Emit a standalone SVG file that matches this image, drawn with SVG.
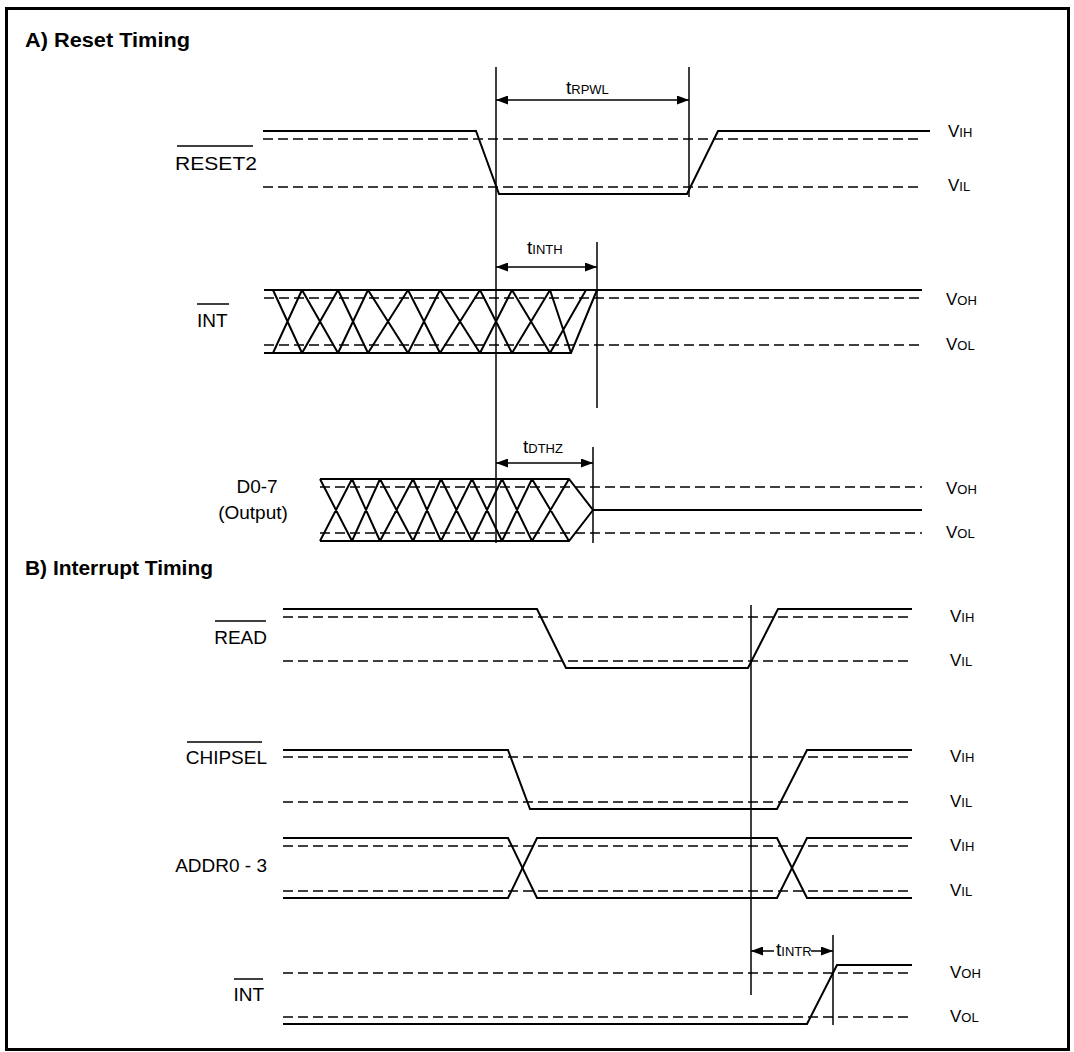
<svg xmlns="http://www.w3.org/2000/svg" width="1074" height="1052" viewBox="0 0 1074 1052">
<style>
text{font-family:"Liberation Sans",Arial,Helvetica,sans-serif;fill:#000}
.title{font-size:20px;font-weight:bold}
.name{font-size:19px}
.vl{font-size:17px}
.vs{font-size:13px}
.tl{font-size:19px}
.ts{font-size:13px}
.sig{fill:none;stroke:#000;stroke-width:2;stroke-linejoin:miter}
.ref{fill:none;stroke:#000;stroke-width:1.6;stroke-dasharray:10 5}
.tick{fill:none;stroke:#000;stroke-width:1.5}
.ov{stroke:#000;stroke-width:1.5}
.arr{fill:none;stroke:#000;stroke-width:1.5}
.frame{fill:none;stroke:#000;stroke-width:3}
</style>
<defs>
<marker id="ah" viewBox="0 0 12 9" markerWidth="12" markerHeight="9" refX="12" refY="4.5" orient="auto-start-reverse" markerUnits="userSpaceOnUse">
<path d="M0,0 L12,4.5 L0,9 z" fill="#000"/>
</marker>
</defs>
<rect width="1074" height="1052" fill="#fff"/>
<rect class="frame" x="6.5" y="8.5" width="1062" height="1041"/>

<g id="titles">
<text class="title" x="25" y="47" textLength="165" lengthAdjust="spacingAndGlyphs">A) Reset Timing</text>
<text class="title" x="25" y="575" textLength="188" lengthAdjust="spacingAndGlyphs">B) Interrupt Timing</text>
</g>

<!-- Section A -->
<g id="reset2">
<text class="name" x="175" y="170" textLength="82" lengthAdjust="spacingAndGlyphs">RESET2</text>
<line class="ov" x1="177" y1="146" x2="253" y2="146"/>
<path class="ref" d="M263,139 H922 M263,187 H922"/>
<path class="sig" d="M263,131 H476 L499,194 H687 L718,131 H930"/>
<text class="vl" x="948" y="137">V<tspan class="vs">IH</tspan></text>
<text class="vl" x="948" y="191">V<tspan class="vs">IL</tspan></text>
</g>

<g id="int-a">
<text class="name" x="197" y="327">INT</text>
<line class="ov" x1="197" y1="304" x2="229" y2="304"/>
<path class="ref" d="M264,298 H922 M264,345 H922"/>
<path class="sig" d="M264,290 H922 M264,353 H571 L597,290"/>
<path class="sig" d="M273,290 L302,353 M273,353 L302,290 M302,290 L338,353 M302,353 L338,290 M338,290 L368,353 M338,353 L368,290 M368,290 L408,353 M368,353 L408,290 M408,290 L440,353 M408,353 L440,290 M440,290 L480,353 M440,353 L480,290 M480,290 L512,353 M480,353 L512,290 M512,290 L550,353 M512,353 L550,290 M550,290 L571,353 M550,353 L586,290"/>
<text class="vl" x="946" y="305">V<tspan class="vs">OH</tspan></text>
<text class="vl" x="946" y="350">V<tspan class="vs">OL</tspan></text>
</g>

<g id="d0-7">
<text class="name" x="257" y="493" text-anchor="middle">D0-7</text>
<text class="name" x="253" y="519" text-anchor="middle">(Output)</text>
<path class="ref" d="M320,487 H922 M320,533 H922"/>
<path class="sig" d="M320,479 H569 L593,510 L569,541 H320 M593,510 H922"/>
<path class="sig" d="M320,479 L352,541 M320,541 L352,479 M352,479 L380,541 M352,541 L380,479 M380,479 L413,541 M380,541 L413,479 M413,479 L441,541 M413,541 L441,479 M441,479 L472,541 M441,541 L472,479 M472,479 L502,541 M472,541 L502,479 M502,479 L532,541 M502,541 L532,479 M532,479 L569,541 M532,541 L569,479"/>
<text class="vl" x="946" y="494">V<tspan class="vs">OH</tspan></text>
<text class="vl" x="946" y="538">V<tspan class="vs">OL</tspan></text>
</g>

<!-- Section B -->
<g id="read">
<text class="name" x="267" y="644" text-anchor="end">READ</text>
<line class="ov" x1="215" y1="621" x2="266" y2="621"/>
<path class="ref" d="M283,617 H912 M283,661 H912"/>
<path class="sig" d="M283,609 H537 L566,668 H748 L778,609 H912"/>
<text class="vl" x="950" y="622">V<tspan class="vs">IH</tspan></text>
<text class="vl" x="950" y="666">V<tspan class="vs">IL</tspan></text>
</g>

<g id="chipsel">
<text class="name" x="267" y="764" text-anchor="end">CHIPSEL</text>
<line class="ov" x1="187" y1="742" x2="262" y2="742"/>
<path class="ref" d="M283,757 H912 M283,802 H912"/>
<path class="sig" d="M283,750 H508 L530,809 H777 L807,750 H912"/>
<text class="vl" x="950" y="762">V<tspan class="vs">IH</tspan></text>
<text class="vl" x="950" y="807">V<tspan class="vs">IL</tspan></text>
</g>

<g id="addr0-3">
<text class="name" x="267" y="872" text-anchor="end">ADDR0 - 3</text>
<path class="ref" d="M283,846 H912 M283,891 H912"/>
<path class="sig" d="M283,838 H508 L537,898 H777 L807,838 H912"/>
<path class="sig" d="M283,898 H508 L537,838 H777 L807,898 H912"/>
<text class="vl" x="950" y="851">V<tspan class="vs">IH</tspan></text>
<text class="vl" x="950" y="896">V<tspan class="vs">IL</tspan></text>
</g>

<g id="int-b">
<text class="name" x="264" y="1001" text-anchor="end">INT</text>
<line class="ov" x1="234" y1="979" x2="263" y2="979"/>
<path class="ref" d="M283,973 H912 M283,1017 H912"/>
<path class="sig" d="M283,1024 H807 L837,965 H912"/>
<text class="vl" x="950" y="978">V<tspan class="vs">OH</tspan></text>
<text class="vl" x="950" y="1022">V<tspan class="vs">OL</tspan></text>
</g>

<g id="connectors">
<path class="tick" d="M496,67 V543 M689,67 V197 M597,242 V408 M593,447 V543 M751,605 V995 M833,935 V1025"/>
<line class="arr" x1="496" y1="100" x2="689" y2="100" marker-start="url(#ah)" marker-end="url(#ah)"/>
<line class="arr" x1="496" y1="267" x2="597" y2="267" marker-start="url(#ah)" marker-end="url(#ah)"/>
<line class="arr" x1="496" y1="463" x2="593" y2="463" marker-start="url(#ah)" marker-end="url(#ah)"/>
<line class="arr" x1="774" y1="951" x2="751" y2="951" marker-end="url(#ah)"/>
<line class="arr" x1="811" y1="951" x2="833" y2="951" marker-end="url(#ah)"/>
<text class="tl" x="566" y="94">t<tspan class="ts">RPWL</tspan></text>
<text class="tl" x="527" y="254">t<tspan class="ts">INTH</tspan></text>
<text class="tl" x="523" y="453">t<tspan class="ts">DTHZ</tspan></text>
<text class="tl" x="776" y="956">t<tspan class="ts">INTR</tspan></text>
</g>
</svg>
